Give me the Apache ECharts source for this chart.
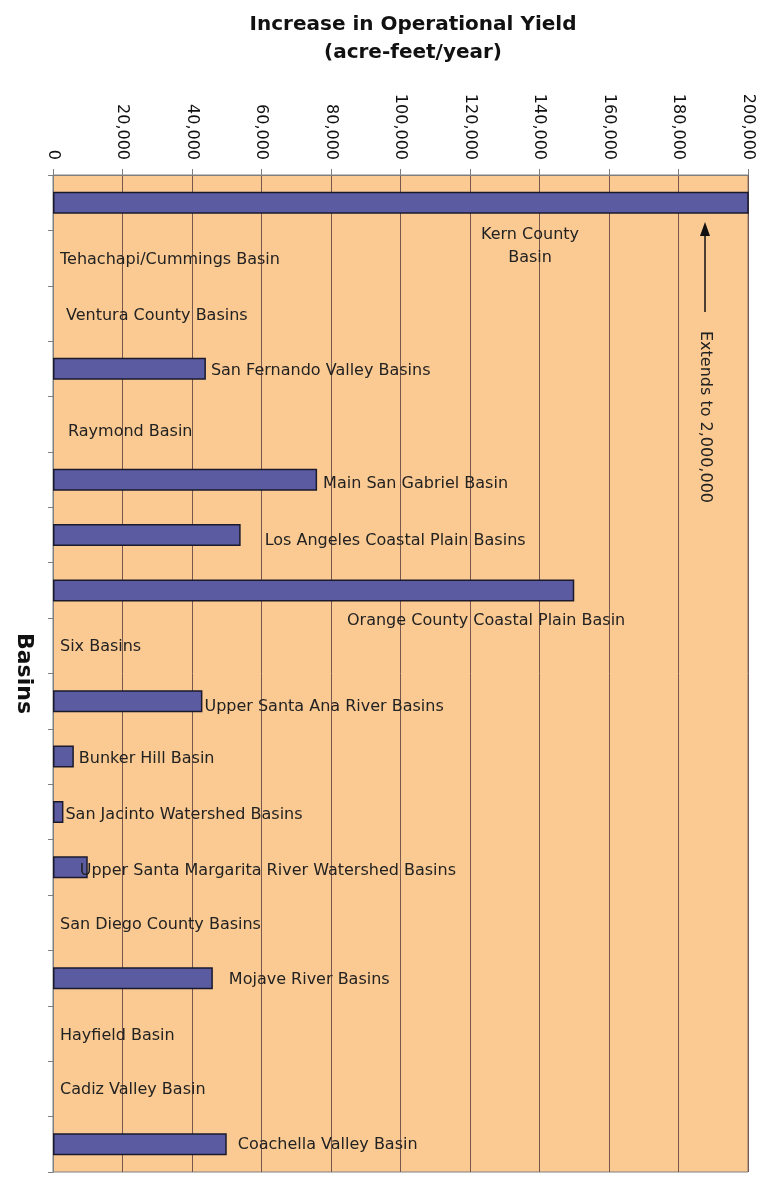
<!DOCTYPE html>
<html>
<head>
<meta charset="utf-8">
<script src="https://cdn.jsdelivr.net/npm/echarts@6/dist/echarts.min.js"></script>
<style>
  html, body { margin: 0; padding: 0; background: #fff; }
  #chart { width: 766px; height: 1177px; }
</style>
</head>
<body>
<div id="chart"></div>
<script>
// basins, top to bottom
const basins = [
  'Kern County Basin',
  'Tehachapi/Cummings Basin',
  'Ventura County Basins',
  'San Fernando Valley Basins',
  'Raymond Basin',
  'Main San Gabriel Basin',
  'Los Angeles Coastal Plain Basins',
  'Orange County Coastal Plain Basin',
  'Six Basins',
  'Upper Santa Ana River Basins',
  'Bunker Hill Basin',
  'San Jacinto Watershed Basins',
  'Upper Santa Margarita River Watershed Basins',
  'San Diego County Basins',
  'Mojave River Basins',
  'Hayfield Basin',
  'Cadiz Valley Basin',
  'Coachella Valley Basin'
];

// acre-feet/year (Kern extends to 2,000,000, off the scale)
const yieldIncrease = [
  2000000, 0, 0, 44000, 0, 76000, 54000, 150000, 0,
  43000, 6000, 3000, 10000, 0, 46000, 0, 0, 50000
];

const axisMin = 0;
const axisMax = 200000;
const axisStep = 20000;

// where each basin's name sits (label styling only)
const labelPlaces = [
  { position: [477, 32], align: 'center', verticalAlign: 'top', lineHeight: 23 },
  { position: 'right', distance: 7, offset: [0, 2] },
  { position: 'right', distance: 13, offset: [0, 2] },
  { position: 'right', distance: 5, offset: [0, 2] },
  { position: 'right', distance: 15, offset: [0, 8] },
  { position: 'right', distance: 6, offset: [0, 4] },
  { position: 'right', distance: 24, offset: [0, 6] },
  { position: [294, 41], align: 'left', verticalAlign: 'middle' },
  { position: 'right', distance: 7, offset: [0, 1] },
  { position: 'right', distance: 2, offset: [0, 6] },
  { position: 'right', distance: 5, offset: [0, 2] },
  { position: 'right', distance: 2, offset: [0, 3] },
  { position: 'right', distance: -8, offset: [0, 3] },
  { position: 'right', distance: 7, offset: [0, 2] },
  { position: 'right', distance: 16, offset: [0, 2] },
  { position: 'right', distance: 7, offset: [0, 2] },
  { position: 'right', distance: 7, offset: [0, 1] },
  { position: 'right', distance: 11, offset: [0, 1] }
];

const font = 'DejaVu Sans';
const chart = echarts.init(document.getElementById('chart'), null, { renderer: 'canvas' });

const barData = yieldIncrease.map(function (v, i) {
  return {
    value: v,
    itemStyle: v === 0 ? { borderWidth: 0, color: 'transparent' } : undefined,
    label: labelPlaces[i]
  };
});

const option = {
  backgroundColor: '#ffffff',
  animation: false,
  title: {
    text: 'Increase in Operational Yield\n(acre-feet/year)',
    left: 408,
    top: 6,
    textAlign: 'center',
    textStyle: {
      fontFamily: font,
      fontWeight: 'bold',
      fontSize: 20,
      lineHeight: 28,
      color: '#111'
    }
  },
  grid: {
    left: 53,
    right: 18,
    top: 175,
    bottom: 5,
    containLabel: false,
    outerBoundsMode: 'none',
    show: true,
    backgroundColor: '#fbca92',
    borderColor: '#808080',
    borderWidth: 1
  },
  xAxis: {
    type: 'value',
    position: 'top',
    min: axisMin,
    max: axisMax,
    interval: axisStep,
    axisLine: { show: true, lineStyle: { color: '#7f7f7f', width: 1 } },
    axisTick: { show: true, length: 6, lineStyle: { color: '#7f7f7f' } },
    splitLine: { show: true, lineStyle: { color: '#76564e', width: 1 } },
    axisLabel: {
      rotate: 90,
      margin: 15,
      fontFamily: font,
      fontSize: 16,
      color: '#111',
      formatter: function (v) { return v.toLocaleString('en-US'); }
    }
  },
  yAxis: {
    type: 'category',
    data: basins,
    inverse: true,
    axisLine: { show: true, lineStyle: { color: '#7f7f7f' } },
    axisTick: { show: true, length: 5, lineStyle: { color: '#7f7f7f' } },
    axisLabel: { show: false },
    splitLine: { show: false },
    name: 'Basins',
    nameLocation: 'middle',
    nameRotate: -90,
    nameGap: 18,
    nameTextStyle: {
      fontFamily: font,
      fontWeight: 'bold',
      fontSize: 22,
      color: '#111'
    }
  },
  series: [{
    type: 'bar',
    data: barData,
    barWidth: 22,
    clip: true,
    itemStyle: {
      color: '#5b5ba2',
      borderColor: '#1a1a2c',
      borderWidth: 1.5
    },
    label: {
      show: true,
      fontFamily: font,
      fontSize: 16,
      color: '#222',
      formatter: function (p) {
        return p.name === 'Kern County Basin' ? 'Kern County\nBasin' : p.name;
      }
    }
  }],
  graphic: [
    {
      type: 'line',
      shape: { x1: 705, y1: 234, x2: 705, y2: 312 },
      style: { stroke: '#111', lineWidth: 1.5 }
    },
    {
      type: 'polygon',
      shape: { points: [[705, 222], [700, 236], [710, 236]] },
      style: { fill: '#111' }
    },
    {
      type: 'text',
      x: 705,
      y: 417,
      rotation: -Math.PI / 2,
      style: {
        text: 'Extends to 2,000,000',
        fontFamily: font,
        fontSize: 16,
        fill: '#222',
        align: 'center',
        verticalAlign: 'middle'
      }
    }
  ]
};

chart.setOption(option);
</script>
</body>
</html>
